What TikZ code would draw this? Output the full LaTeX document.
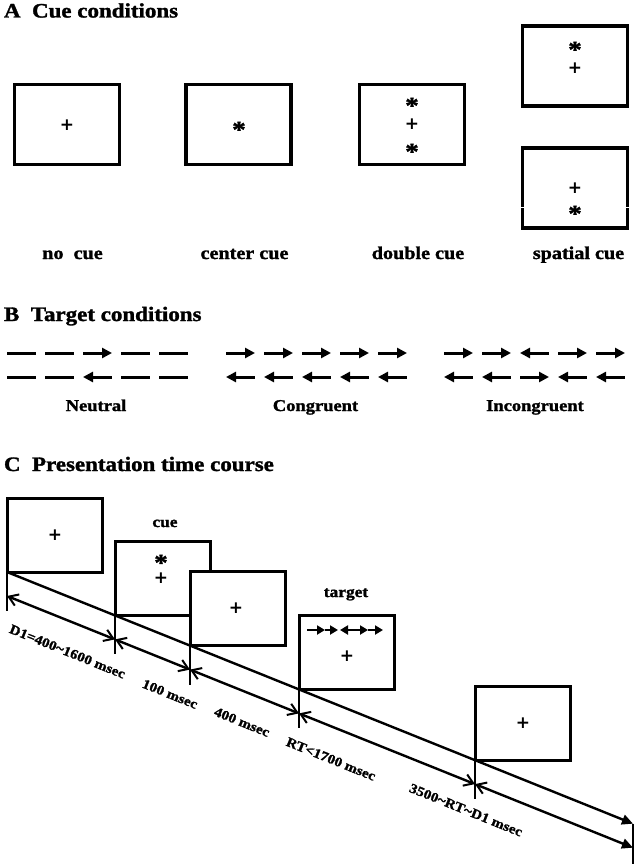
\documentclass[tikz,border=0pt]{standalone}
\usepackage{fontspec}
\setmainfont{Liberation Serif}[FakeStretch=1.12,BoldFeatures={FakeBold=1.5}]
\newfontfamily\symfont{DejaVu Sans Bold}
\usetikzlibrary{arrows.meta}
\begin{document}
\begin{tikzpicture}[x=1pt,y=-1pt,
  every node/.style={inner sep=0pt,outer sep=0pt},
  ttl/.style={anchor=base west,font=\fontsize{20.5}{24}\selectfont\bfseries},
  albl/.style={anchor=base,font=\fontsize{18}{20}\selectfont\bfseries},
  blbl/.style={anchor=base,font=\fontsize{16.5}{20}\selectfont\bfseries},
  clbl/.style={anchor=center,rotate=-22,font=\fontsize{13.5}{16}\selectfont\bfseries},
  hlbl/.style={anchor=base,font=\fontsize{15.5}{18}\selectfont\bfseries},
  abox/.style={draw,line width=3.2pt,minimum width=105pt,minimum height=80pt},
  cbox/.style={draw,fill=white,line width=3pt,minimum width=95pt,minimum height=74pt,anchor=south west},
  pl/.style={anchor=center,font=\symfont\fontsize{17}{17}\selectfont},
  ast/.style={anchor=base,yshift=-11.6pt,font=\fontsize{24}{24}\selectfont\bfseries},
  bl/.style={line width=3pt},
  Rarr/.style={-{Triangle[length=10pt,width=10pt]}},
  Larr/.style={{Triangle[length=10pt,width=10pt]}-},
  Dash/.style={},
  tl/.style={line width=2.4pt},
  barbtip/.tip={Straight Barb[length=9pt,width=12pt,line width=2pt]},
  tritip/.tip={Triangle[length=11pt,width=10pt]},
  sarr/.style={line width=2.2pt,-{Triangle[length=8pt,width=9pt]}},
]
\useasboundingbox (0,0) rectangle (640,866);

% ---------------- A ----------------
\node[ttl] (tA) at (4,17.5) {A\ \ Cue conditions};
\node[abox] (a1) at (67,124.5) {};
\node[abox] (a2) at (238.5,124.5) {};
\node[abox] (a3) at (412,124.5) {};
\node[abox] (a4) at (575,66) {};
\node[abox] (a5) at (575,188) {};
\draw[white,line width=1pt] (519,207.7) -- (526,207.7) (624,207.7) -- (631,207.7);

\node[pl] (s1) at (67,125) {+};
\node[ast] (s2) at (239,126) {*};
\node[ast] (s3) at (412,102) {*};
\node[pl] (s4) at (412,124) {+};
\node[ast] (s5) at (412,148) {*};
\node[ast] (s6) at (575,46) {*};
\node[pl] (s7) at (575,68) {+};
\node[pl] (s8) at (575,188) {+};
\node[ast] (s9) at (575,210) {*};

\node[albl] (l1) at (72.5,259) {no\ \ cue};
\node[albl] (l2) at (244.5,259) {center cue};
\node[albl] (l3) at (418,259) {double cue};
\node[albl] (l4) at (578.5,259) {spatial cue};

% ---------------- B ----------------
\node[ttl] (tB) at (4,321) {B\ \ Target conditions};
\foreach \sx/\yy/\ta/\tb/\tc/\td/\te in {
   7/353/Dash/Dash/Rarr/Dash/Dash, 7/377/Dash/Dash/Larr/Dash/Dash,
   226/353/Rarr/Rarr/Rarr/Rarr/Rarr, 226/377/Larr/Larr/Larr/Larr/Larr,
   444/353/Rarr/Rarr/Larr/Rarr/Rarr, 444/377/Larr/Larr/Rarr/Larr/Larr}{
  \foreach \t [count=\i from 0] in {\ta,\tb,\tc,\td,\te}{
    \draw[bl,style/.expand once=\t] (\sx+38*\i,\yy) -- (\sx+38*\i+29,\yy);
  }
}
\node[blbl] (b1) at (96,411) {Neutral};
\node[blbl] (b2) at (315.5,411) {Congruent};
\node[blbl] (b3) at (535,411) {Incongruent};

% ---------------- C ----------------
\node[ttl] (tC) at (4,471) {C\ \ Presentation time course};

\coordinate (U0) at (7,572);
\coordinate (U2) at (115,615.4);
\coordinate (U3) at (190,645.6);
\coordinate (U4) at (299,689.4);
\coordinate (U5) at (475,760.1);
\coordinate (UE) at (633,823.7);
\coordinate (L0) at (7,596);
\coordinate (L1) at (115,639.4);
\coordinate (L2) at (190,669.6);
\coordinate (L3) at (299,713.4);
\coordinate (L4) at (475,784.1);
\coordinate (L5) at (633,847.7);
\coordinate (V0) at (7,611);
\coordinate (V1) at (115,654);
\coordinate (V2) at (190,685);
\coordinate (V3) at (299,728);
\coordinate (V4) at (475,799);
\coordinate (V5) at (633,864);

\draw[tl] (U0) -- (V0);
\draw[tl] (U2) -- (V1);
\draw[tl] (U3) -- (V2);
\draw[tl] (U4) -- (V3);
\draw[tl] (U5) -- (V4);
\draw[tl] (UE) -- (V5);

\draw[tl,-tritip] (U0) -- (UE);
\draw[tl,barbtip-barbtip] (L0) -- (L1);
\draw[tl,barbtip-barbtip] (L1) -- (L2);
\draw[tl,barbtip-barbtip] (L2) -- (L3);
\draw[tl,barbtip-barbtip] (L3) -- (L4);
\draw[tl,barbtip-tritip] (L4) -- (L5);

\node[cbox] (c1) at (U0) {};
\node[cbox] (c2) at (U2) {};
\node[cbox] (c3) at (U3) {};
\node[cbox] (c4) at (U4) {};
\node[cbox] (c5) at (U5) {};

\node[pl] (p1) at (55,535) {+};
\node[ast] (p2) at (161,559) {*};
\node[pl] (p3) at (161,578) {+};
\node[pl] (p4) at (236,608) {+};
\node[pl] (p5) at (347,656) {+};
\node[pl] (p6) at (523,723) {+};

\draw[sarr] (307,630) -- (325,630);
\draw[sarr] (325,630) -- (338,630);
\draw[sarr] (350,630) -- (340,630);
\draw[sarr] (350,630) -- (368,630);
\draw[sarr] (368,630) -- (383,630);

\node[hlbl] (hc) at (165,527) {cue};
\node[hlbl] (ht) at (346,597) {target};

\node[clbl] (d1) at (67.5,651.5) {D1=400\textasciitilde1600 msec};
\node[clbl] (d2) at (170,694) {100 msec};
\node[clbl] (d3) at (242,722) {400 msec};
\node[clbl] (d4) at (331,759) {RT<1700 msec};
\node[clbl] (d5) at (466,810) {3500\textasciitilde RT\textasciitilde D1 msec};
\end{tikzpicture}
\end{document}
